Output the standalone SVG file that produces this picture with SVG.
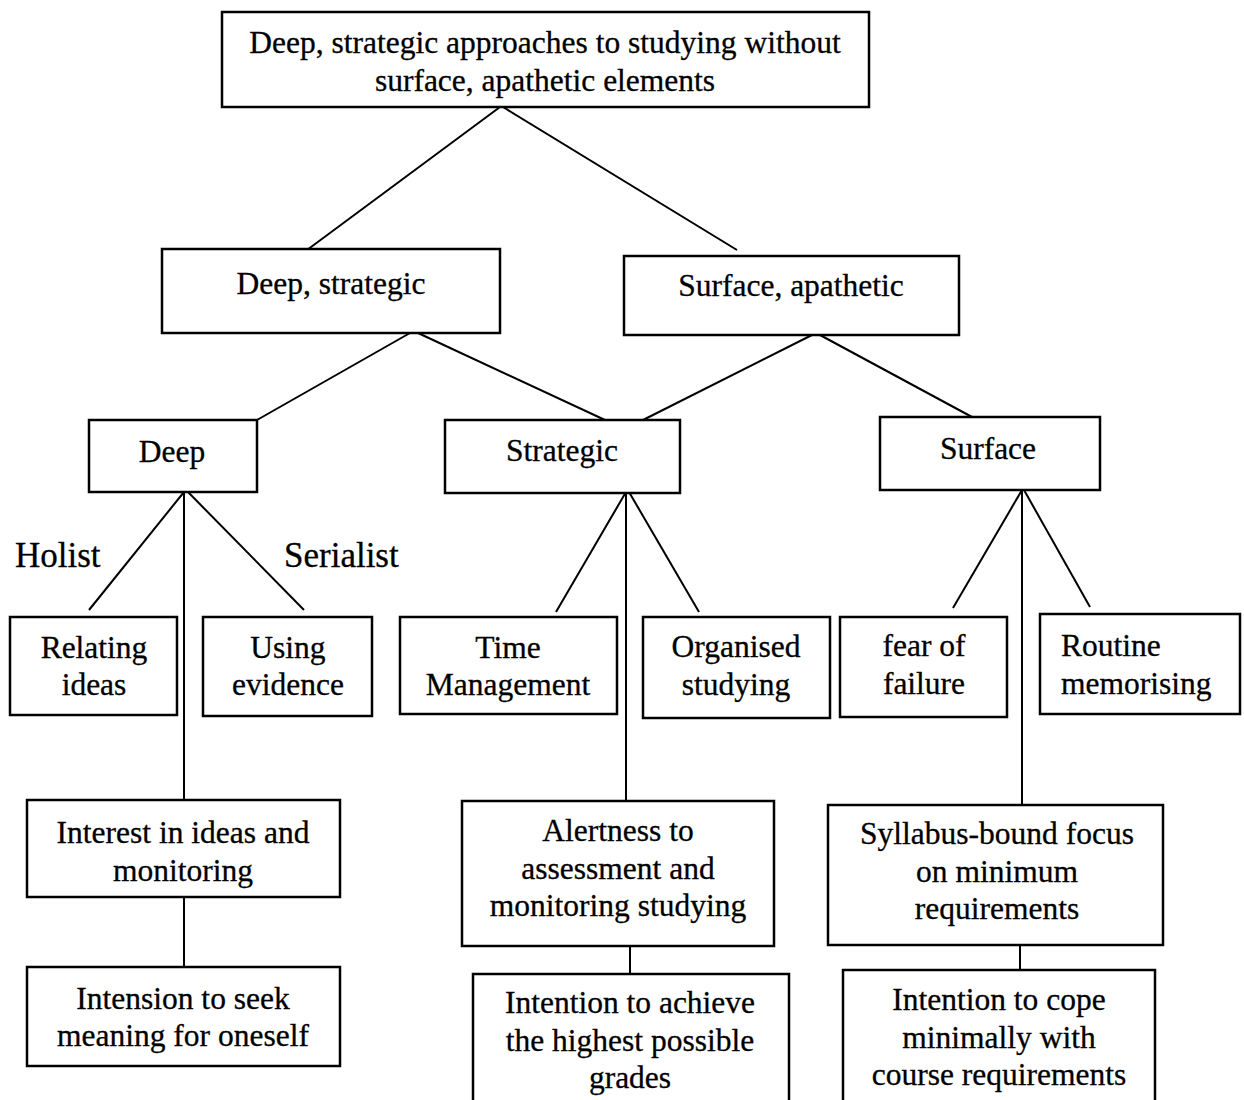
<svg xmlns="http://www.w3.org/2000/svg" width="1244" height="1100" viewBox="0 0 1244 1100">
<style>
.box{fill:#fff;stroke:#000;stroke-width:2.5}
.t{font-family:"Liberation Serif","Times New Roman",serif;font-size:31.5px;fill:#000;text-anchor:middle;stroke:#000;stroke-width:0.3}
.s{text-anchor:start}
.l{font-family:"Liberation Serif","Times New Roman",serif;font-size:35px;fill:#000;text-anchor:start;stroke:#000;stroke-width:0.3}
.c{stroke:#000;stroke-width:2;fill:none}
</style>
<rect width="1244" height="1100" fill="#fff"/>
<g id="connectors">
<line class="c" x1="500" y1="107" x2="307" y2="250"/>
<line class="c" x1="503" y1="107" x2="737" y2="250"/>
<line class="c" x1="410" y1="333" x2="257" y2="420"/>
<line class="c" x1="418" y1="333" x2="605" y2="420"/>
<line class="c" x1="812" y1="335" x2="643" y2="420"/>
<line class="c" x1="820" y1="335" x2="972" y2="417"/>
<line class="c" x1="184" y1="492" x2="89" y2="610"/>
<line class="c" x1="184" y1="492" x2="184" y2="800"/>
<line class="c" x1="188" y1="492" x2="304" y2="610"/>
<line class="c" x1="626" y1="492" x2="556" y2="612"/>
<line class="c" x1="626" y1="492" x2="626" y2="801"/>
<line class="c" x1="629" y1="492" x2="699" y2="612"/>
<line class="c" x1="1022" y1="490" x2="953" y2="608"/>
<line class="c" x1="1022" y1="490" x2="1022" y2="805"/>
<line class="c" x1="1024" y1="490" x2="1090" y2="607"/>
<line class="c" x1="184" y1="897" x2="184" y2="967"/>
<line class="c" x1="630" y1="946" x2="630" y2="974"/>
<line class="c" x1="1020" y1="946" x2="1020" y2="970"/>
</g>
<g id="n-top"><rect class="box" x="222" y="12" width="647" height="95"/>
<text class="t" x="545" y="53">Deep, strategic approaches to studying without</text>
<text class="t" x="545" y="91">surface, apathetic elements</text></g>
<g id="n-deepstrategic"><rect class="box" x="162" y="249" width="338" height="84"/>
<text class="t" x="331" y="294">Deep, strategic</text></g>
<g id="n-surfaceapathetic"><rect class="box" x="624" y="256" width="335" height="79"/>
<text class="t" x="791" y="296">Surface, apathetic</text></g>
<g id="n-deep"><rect class="box" x="89" y="420" width="168" height="72"/>
<text class="t" x="172" y="462">Deep</text></g>
<g id="n-strategic"><rect class="box" x="445" y="420" width="235" height="73"/>
<text class="t" x="562" y="461">Strategic</text></g>
<g id="n-surface"><rect class="box" x="880" y="417" width="220" height="73"/>
<text class="t" x="988" y="459">Surface</text></g>
<g id="lbl-holist"><text class="l" x="15" y="567">Holist</text></g>
<g id="lbl-serialist"><text class="l" x="284" y="567">Serialist</text></g>
<g id="n-relating"><rect class="box" x="10" y="617" width="167" height="98"/>
<text class="t" x="94" y="658">Relating</text><text class="t" x="94" y="695">ideas</text></g>
<g id="n-using"><rect class="box" x="203" y="617" width="169" height="99"/>
<text class="t" x="288" y="658">Using</text><text class="t" x="288" y="695">evidence</text></g>
<g id="n-time"><rect class="box" x="400" y="617" width="217" height="97"/>
<text class="t" x="508" y="658">Time</text><text class="t" x="508" y="695">Management</text></g>
<g id="n-organised"><rect class="box" x="643" y="617" width="187" height="101"/>
<text class="t" x="736" y="657">Organised</text><text class="t" x="736" y="695">studying</text></g>
<g id="n-fear"><rect class="box" x="840" y="617" width="167" height="100"/>
<text class="t" x="924" y="656">fear of</text><text class="t" x="924" y="694">failure</text></g>
<g id="n-routine"><rect class="box" x="1040" y="614" width="200" height="100"/>
<text class="t s" x="1061" y="656">Routine</text><text class="t s" x="1061" y="694">memorising</text></g>
<g id="n-interest"><rect class="box" x="27" y="800" width="313" height="97"/>
<text class="t" x="183" y="843">Interest in ideas and</text><text class="t" x="183" y="881">monitoring</text></g>
<g id="n-intension"><rect class="box" x="27" y="967" width="313" height="99"/>
<text class="t" x="183" y="1009">Intension to seek</text><text class="t" x="183" y="1046">meaning for oneself</text></g>
<g id="n-alertness"><rect class="box" x="462" y="801" width="312" height="145"/>
<text class="t" x="618" y="841">Alertness to</text><text class="t" x="618" y="879">assessment and</text><text class="t" x="618" y="916">monitoring studying</text></g>
<g id="n-achieve"><rect class="box" x="473" y="974" width="316" height="140"/>
<text class="t" x="630" y="1013">Intention to achieve</text><text class="t" x="630" y="1051">the highest possible</text><text class="t" x="630" y="1088">grades</text></g>
<g id="n-syllabus"><rect class="box" x="828" y="805" width="335" height="140"/>
<text class="t" x="997" y="844">Syllabus-bound focus</text><text class="t" x="997" y="882">on minimum</text><text class="t" x="997" y="919">requirements</text></g>
<g id="n-cope"><rect class="box" x="843" y="970" width="312" height="140"/>
<text class="t" x="999" y="1010">Intention to cope</text><text class="t" x="999" y="1048">minimally with</text><text class="t" x="999" y="1085">course requirements</text></g>
</svg>
